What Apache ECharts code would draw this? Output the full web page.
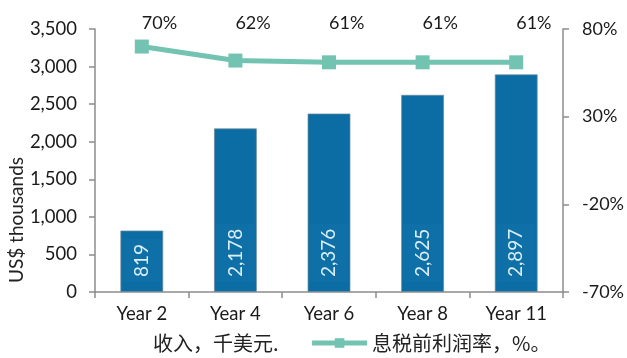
<!DOCTYPE html>
<html><head><meta charset="utf-8">
<script src="https://cdn.jsdelivr.net/npm/echarts@6/dist/echarts.min.js"></script>
<style>html,body{margin:0;padding:0;background:#fff}#c{width:627px;height:358px}</style>
</head><body><div id="c"></div>
<script>
const categories = ['Year 2', 'Year 4', 'Year 6', 'Year 8', 'Year 11'];
const revenue = [819, 2178, 2376, 2625, 2897];
const margin = [70, 62, 61, 61, 61];
const leftTicks = { min: 0, max: 3500, interval: 500 };
const rightTicks = { min: -70, max: 80, interval: 50 };
const revenueName = '收入，千美元.';
const marginName = '息税前利润率，%。';
const yName = 'US$ thousands';

const chart = echarts.init(document.getElementById('c'), null, { renderer: 'canvas' });
const FONT = 'Lato, "Noto Sans", sans-serif';
const CJK = '"Noto Sans CJK SC", sans-serif';
const axisLine = { show: true, lineStyle: { color: '#8c8c8c', width: 1.5 } };
const tick = { show: true, length: 6, lineStyle: { color: '#8c8c8c', width: 1.5 } };
chart.setOption({
  animation: false,
  grid: { left: 95, right: 62, top: 29, bottom: 66 },
  legend: {
    bottom: 0, left: 88, itemGap: 31, itemWidth: 55, itemHeight: 12,
    textStyle: { fontFamily: CJK, fontSize: 20, color: '#222' },
    lineStyle: { width: 5 },
    data: [{ name: revenueName, icon: 'none' }, { name: marginName }]
  },
  graphic: [{
    type: 'text', left: 7, top: 157, rotation: Math.PI / 2,
    style: { text: yName, fontFamily: FONT, fontSize: 19, fill: '#222' }
  }],
  xAxis: {
    type: 'category', data: categories,
    axisLine: axisLine, axisTick: tick,
    axisLabel: { fontFamily: FONT, fontSize: 18.5, color: '#1a1a1a', margin: 13 }
  },
  yAxis: [{
    type: 'value', min: leftTicks.min, max: leftTicks.max, interval: leftTicks.interval,
    axisLine: axisLine, splitLine: { show: false }, axisTick: tick,
    axisLabel: { fontFamily: FONT, fontSize: 18.5, color: '#1a1a1a', margin: 18,
      formatter: v => v.toLocaleString('en-US') }
  }, {
    type: 'value', min: rightTicks.min, max: rightTicks.max, interval: rightTicks.interval,
    axisLine: axisLine, splitLine: { show: false }, axisTick: tick,
    axisLabel: { fontFamily: FONT, fontSize: 18, color: '#1a1a1a', margin: 19,
      formatter: v => v + '%' }
  }],
  series: [{
    name: revenueName, type: 'bar', data: revenue, barWidth: 43, yAxisIndex: 0,
    itemStyle: { color: '#0b6da3', borderColor: 'rgba(110,140,155,0.7)', borderWidth: 1 },
    label: {
      show: true, position: 'insideBottom', rotate: 90, align: 'left', verticalAlign: 'middle',
      distance: 10, color: '#dbeef8', fontFamily: FONT, fontSize: 19,
      backgroundColor: '#0e70a7', padding: [10, 5, 10, 5],
      formatter: p => p.value.toLocaleString('en-US')
    }
  }, {
    name: marginName, type: 'line', data: margin, yAxisIndex: 1,
    lineStyle: { color: '#72c3b1', width: 5 },
    itemStyle: { color: '#72c3b1' },
    symbol: 'rect', symbolSize: 14,
    label: { show: true, position: 'top', fontFamily: FONT, fontSize: 18, color: '#1a1a1a',
      formatter: p => p.value + '%' },
    labelLayout: function () { return { y: 23, verticalAlign: 'middle' }; }
  }]
});
</script></body></html>
